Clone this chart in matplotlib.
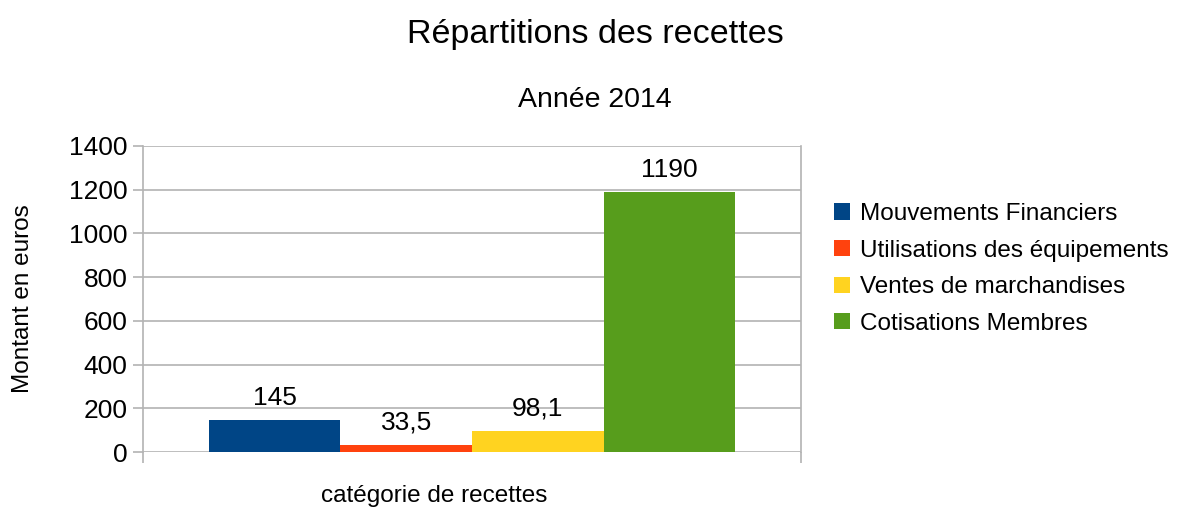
import matplotlib
matplotlib.use("Agg")
import matplotlib.pyplot as plt
import numpy as np

# ============================================================
# DATA
# ============================================================

series_names = [
    "Mouvements Financiers",
    "Utilisations des équipements",
    "Ventes de marchandises",
    "Cotisations Membres",
]
values = [145, 33.5, 98.1, 1190]
value_labels = ["145", "33,5", "98,1", "1190"]
colors = ["#004586", "#ff420e", "#ffd320", "#579d1c"]
y_ticks = [0, 200, 400, 600, 800, 1000, 1200, 1400]

# ============================================================
# FIGURE
# ============================================================

plt.rcParams["font.family"] = ["Liberation Sans", "DejaVu Sans"]

W, H = 1204, 508
fig = plt.figure(figsize=(W / 100, H / 100), dpi=100)

# plot area in pixels: x 143..801, y 146..452
ax = fig.add_axes([143 / W, (H - 452) / H, 658 / W, 306 / H])

bar_width = 0.2
positions = (np.arange(len(values)) - 1.5) * bar_width

bars = ax.bar(positions, values, width=bar_width, color=colors,
              label=series_names, zorder=3)

for x, v, lab in zip(positions, values, value_labels):
    ax.annotate(lab, (x, v), xytext=(0, 16), textcoords="offset points",
                ha="center", va="center", fontsize=19)

ax.set_xlim(-0.5, 0.5)
ax.set_ylim(0, 1400)
ax.set_yticks(y_ticks)
ax.set_xticks([-0.5, 0.5])
ax.set_xticklabels(["", ""])

grid_col = "#b3b3b3"
ax.yaxis.grid(True, color=grid_col, linewidth=1.2, zorder=0)
for side in ["left", "right"]:
    ax.spines[side].set_color(grid_col)
    ax.spines[side].set_linewidth(1.2)
for side in ["top", "bottom"]:
    ax.spines[side].set_visible(False)

ax.tick_params(axis="y", length=7, width=1.2, color=grid_col,
               labelsize=19, pad=4)
ax.tick_params(axis="x", length=8, width=1.2, color=grid_col)

fig.text(595 / W, 1 - 34 / H, "Répartitions des recettes",
         ha="center", va="center", fontsize=24.5)
fig.text(595 / W, 1 - 100 / H, "Année 2014",
         ha="center", va="center", fontsize=20.5)

fig.text(23 / W, 1 - 299 / H, "Montant en euros", rotation=90,
         ha="center", va="center", fontsize=17.5)
fig.text(434 / W, 1 - 496 / H, "catégorie de recettes",
         ha="center", va="center", fontsize=17.5)

fig.legend(handles=bars, labels=series_names, loc="upper left",
           bbox_to_anchor=(834 / W, 1 - 203 / H), frameon=False,
           fontsize=17.5, handlelength=0.65, handleheight=0.65,
           handletextpad=0.4, labelspacing=0.6, borderaxespad=0,
           borderpad=0)

fig.savefig("out.png", dpi=100)
